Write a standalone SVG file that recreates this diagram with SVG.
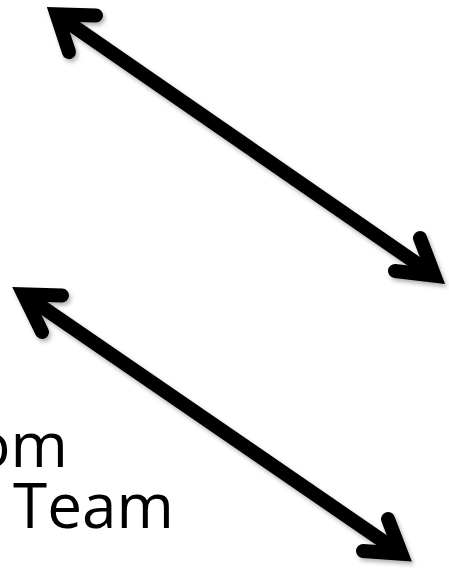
<svg xmlns="http://www.w3.org/2000/svg" width="449" height="571" viewBox="0 0 449 571">
<style>
.arr{fill:none;stroke:#000;stroke-width:14;stroke-linecap:round;stroke-linejoin:miter;stroke-miterlimit:6}
.shaft{fill:none;stroke:#000;stroke-width:14;stroke-linecap:butt}
.lbl{font-family:"Open Sans","Noto Sans",sans-serif;font-size:62px;fill:#000}
</style>
<defs>
<filter id="sh" x="-10%" y="-10%" width="120%" height="120%">
<feDropShadow dx="2" dy="3" stdDeviation="2" flood-color="#000" flood-opacity="0.3"/>
</filter>
</defs>
<rect width="449" height="571" fill="#fff"/>
<g id="label">
<text class="lbl" x="68" y="467" text-anchor="end">om</text>
<text class="lbl" x="13" y="528">Team</text>
</g>
<g id="connectors" filter="url(#sh)">
<g id="arrow1">
<path class="shaft" d="M56.6 14.4 L434.4 275.6"/>
<path class="arr" d="M96 15.5 L56.6 14.4 L69 52"/>
<path class="arr" d="M395 271 L434.4 275.6 L420 238"/>
</g>
<g id="arrow2">
<path class="shaft" d="M23.6 294.3 L401.4 553.7"/>
<path class="arr" d="M62 295.5 L23.6 294.3 L42 332"/>
<path class="arr" d="M363 551 L401.4 553.7 L388 519"/>
</g>
</g>
</svg>
